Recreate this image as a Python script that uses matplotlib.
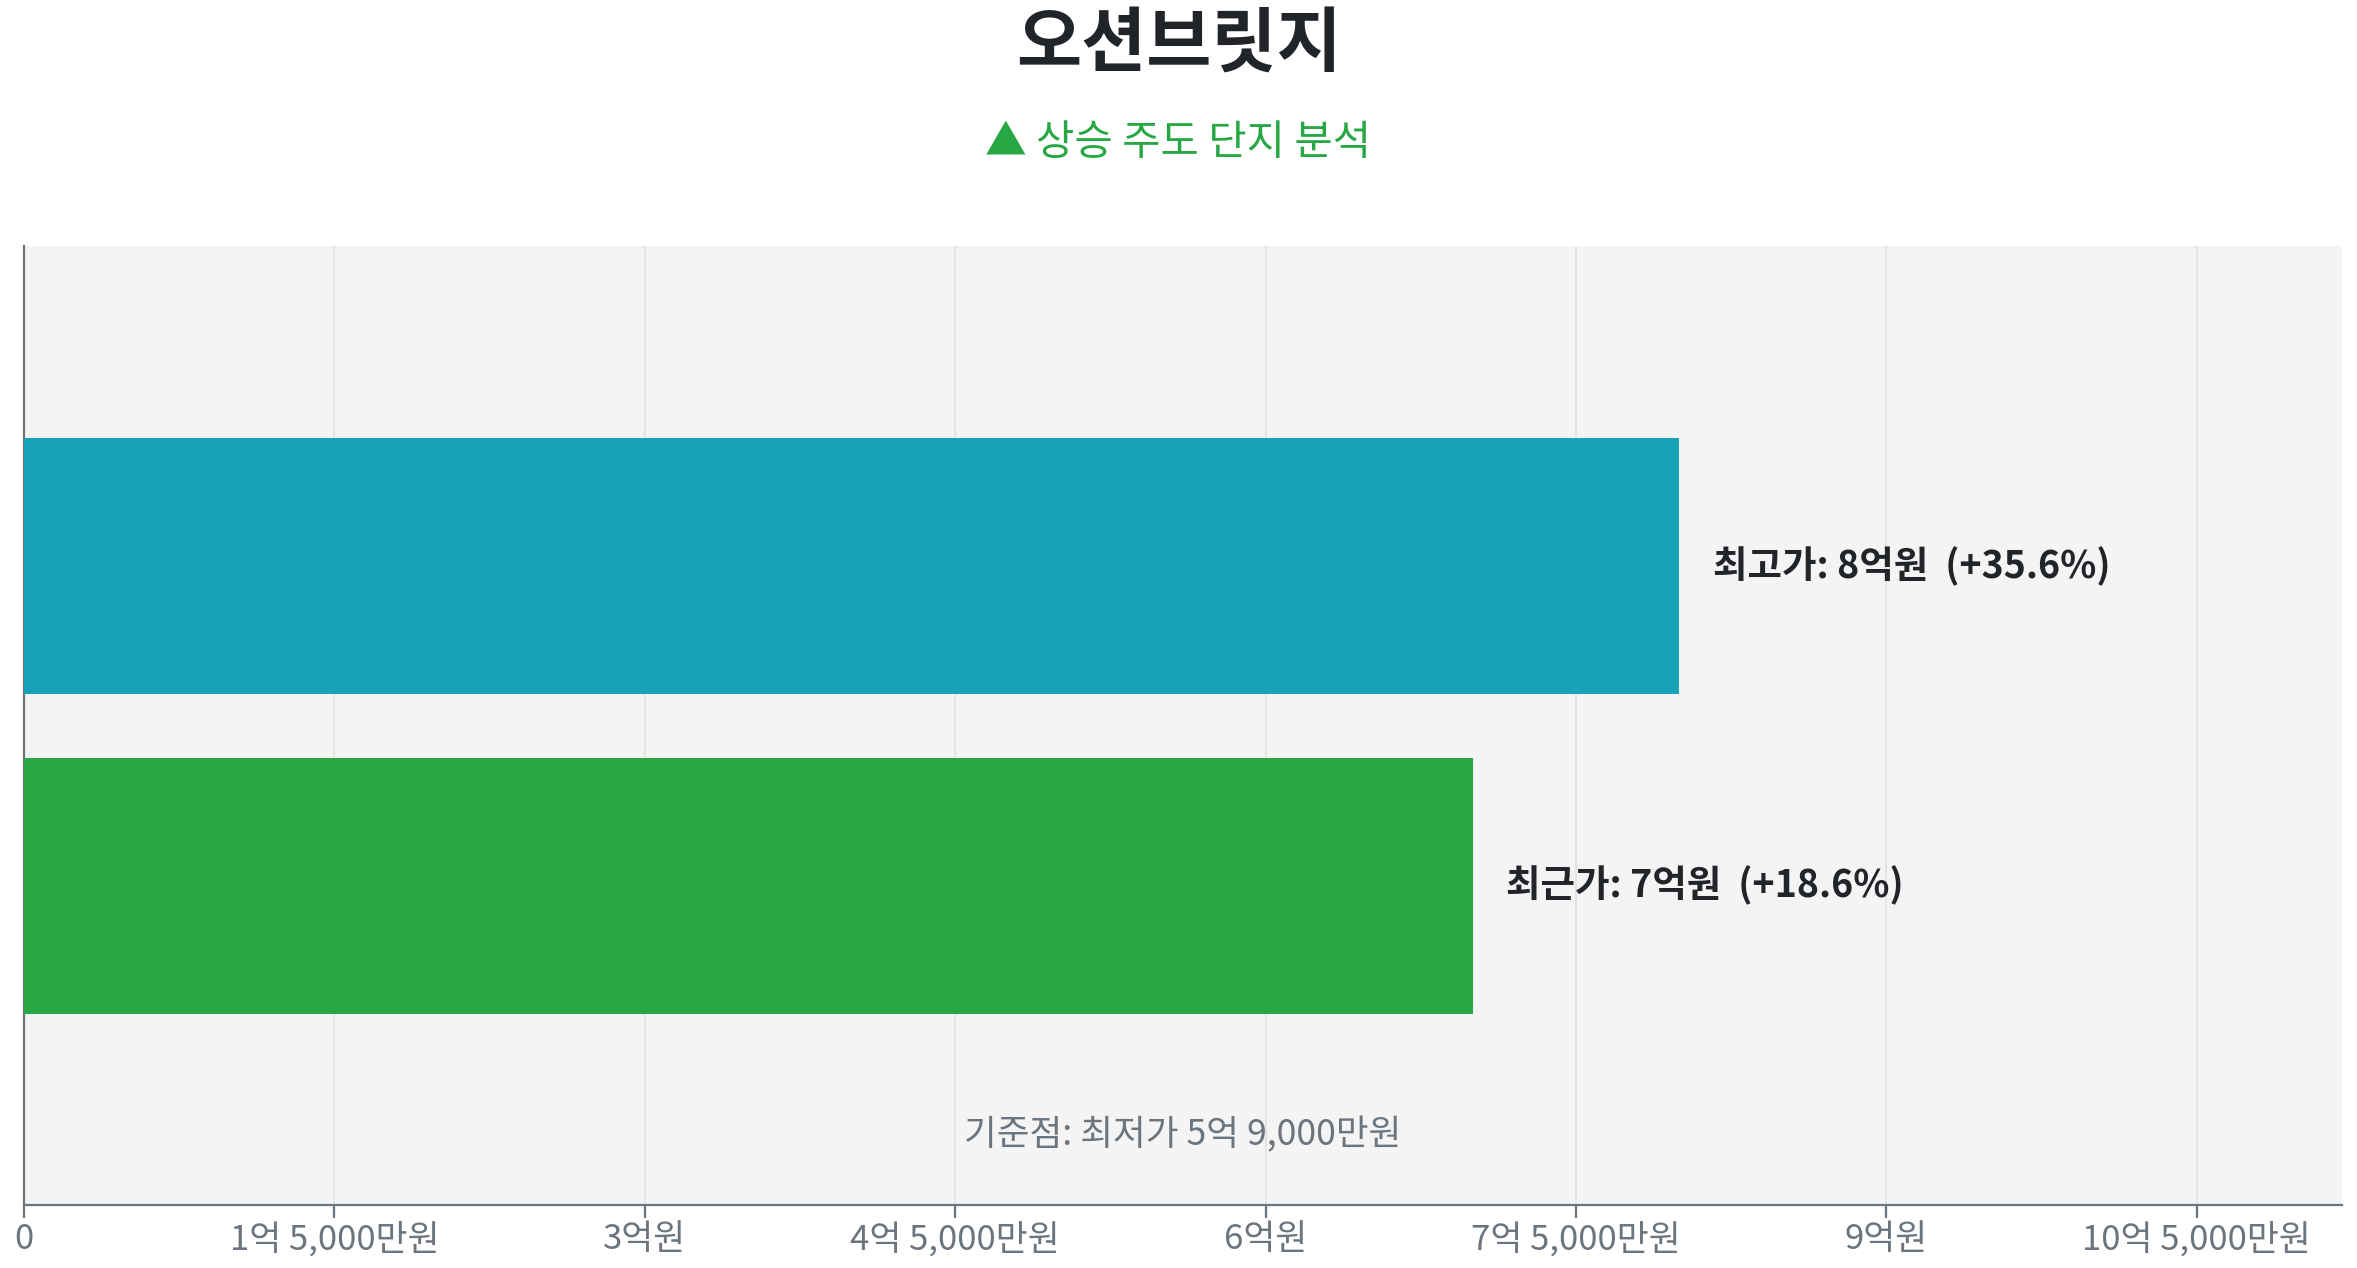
import matplotlib
matplotlib.use("Agg")
import matplotlib.pyplot as plt

plt.rcParams['font.family'] = ['Noto Sans CJK KR', 'DejaVu Sans']

# 데이터
단지명 = "오션브릿지"
구분 = ["최고가", "최근가"]
가격 = [8.0e8, 7.0e8]
가격라벨 = ["8억원", "7억원"]
상승률 = ["+35.6%", "+18.6%"]
색상 = ["#17a2b8", "#28a745"]
기준가_라벨 = "5억 9,000만원"
눈금 = [0, 1.5e8, 3e8, 4.5e8, 6e8, 7.5e8, 9e8, 10.5e8]
눈금라벨 = ["0", "1억 5,000만원", "3억원", "4억 5,000만원", "6억원",
         "7억 5,000만원", "9억원", "10억 5,000만원"]
x최대 = 11.2e8

fig = plt.figure(figsize=(11.785, 6.34), dpi=200)
ax = fig.add_axes([0.0102, 0.0493, 0.9833, 0.7563])
ax.set_facecolor("#f4f4f4")

위치 = [1, 2]
ax.barh(위치, 가격, height=0.8, color=색상, zorder=3)
ax.set_ylim(3, 0)
ax.set_xlim(0, x최대)

for i in range(len(구분)):
    ax.annotate(f"{구분[i]}: {가격라벨[i]}  ({상승률[i]})", xy=(가격[i], 위치[i]),
                xytext=(12, 0), textcoords="offset points", va="center", ha="left",
                fontsize=13.5, fontweight="bold", color="#212529", zorder=4)

ax.text(x최대 / 2, 2.78, f"기준점: 최저가 {기준가_라벨}", ha="center", va="center",
        fontsize=12.8, color="#6c757d")

ax.set_xticks(눈금)
ax.set_xticklabels(눈금라벨, fontsize=12.5, color="#6c757d")
ax.set_yticks([])
ax.tick_params(axis="x", length=4.5, width=0.8, color="#6c757d", pad=1.5)
ax.grid(axis="x", color="#e3e3e3", linewidth=0.7, zorder=0)
for s in ["top", "right"]:
    ax.spines[s].set_visible(False)
ax.spines["left"].set_color("#6c757d")
ax.spines["left"].set_linewidth(0.8)
ax.spines["bottom"].set_color("#6c757d")
ax.spines["bottom"].set_linewidth(0.8)

fig.text(0.5, 0.965, 단지명, ha="center", va="center", fontsize=25.5,
         fontweight="bold", color="#212529")
fig.text(0.5, 0.887, "▲ 상승 주도 단지 분석", ha="center", va="center",
         fontsize=15, color="#28a745", family=['Noto Sans CJK KR', 'DejaVu Sans'])

fig.savefig("out.png", dpi=200, facecolor="white")
